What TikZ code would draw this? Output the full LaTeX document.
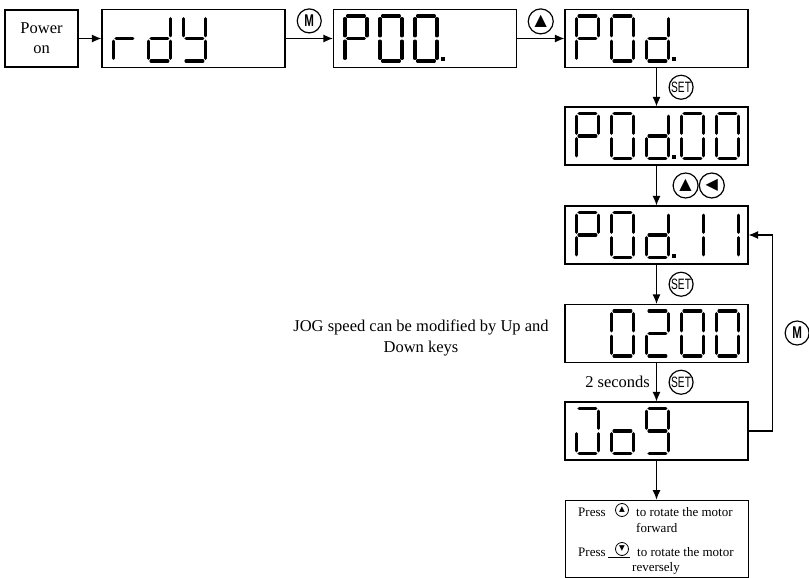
\documentclass[tikz,border=0pt]{standalone}
\usepackage{fontspec}
\setmainfont{Liberation Serif}
\newfontfamily\keyfont{Liberation Sans}
\newfontfamily\symfont{DejaVu Sans}
\usetikzlibrary{positioning,arrows.meta}

\newcommand{\segs}[3]{\foreach \s in {#3} {\pic at ([xshift={12pt+35pt*#2},yshift=22.5pt]#1.west) {seg\s};}}
\newcommand{\keylbl}[1]{\scalebox{0.68}[1]{#1}}

\begin{document}
\begin{tikzpicture}[
    x=1pt,y=-1pt,
    box/.style={draw,rectangle,line width=1.1pt,minimum width=73pt,minimum height=57pt,align=center,font=\fontsize{16.5}{20}\selectfont},
    disp/.style={draw,rectangle,line width=1.1pt,minimum width=183pt,minimum height=58pt},
    arr/.style={-{Latex[length=9.5pt,width=8pt]},line width=1.2pt},
    key/.style={circle,draw,line width=1.2pt,minimum size=24pt,inner sep=0pt,font=\keyfont\bfseries\fontsize{17}{17}\selectfont},
    setkey/.style={key,font=\keyfont\fontsize{15}{15}\selectfont},
    symkey/.style={key,minimum size=25pt,font=\symfont\fontsize{16}{16}\selectfont},
    smallkey/.style={circle,draw,line width=0.8pt,minimum size=13pt,inner sep=0pt,font=\symfont\fontsize{7.5}{7.5}\selectfont},
    txt/.style={font=\fontsize{16.5}{21}\selectfont,align=center,inner sep=0pt},
    ptxt/.style={font=\fontsize{13}{15}\selectfont,anchor=base west,inner sep=0pt},
    segline/.style={line width=3.2pt,line cap=round,shorten <=2.6pt,shorten >=2.6pt},
    pics/sega/.style={code={\draw[segline] (0,0) -- (22,0);}},
    pics/segb/.style={code={\draw[segline] (22,0) -- (22,22.5);}},
    pics/segc/.style={code={\draw[segline] (22,22.5) -- (22,45);}},
    pics/segd/.style={code={\draw[segline] (0,45) -- (22,45);}},
    pics/sege/.style={code={\draw[segline] (0,22.5) -- (0,45);}},
    pics/segf/.style={code={\draw[segline] (0,0) -- (0,22.5);}},
    pics/segg/.style={code={\draw[segline] (0,22.5) -- (22,22.5);}},
    pics/segp/.style={code={\fill (26,41.5) rectangle (30,45.5);}},
  ]
    \useasboundingbox (0,0) rectangle (809,578);

    \node[box]  (pwr)   at (41.5,38.5) {Power\\on};
    \node[disp] (rdy)   at (193.5,38.5) {};
    \node[disp] (p00)   at (425,38.5) {};
    \node[disp] (p0d)   at (656.5,38.5) {};
    \node[disp] (p0d00) at (656.5,136) {};
    \node[disp] (p0d11) at (656.5,235) {};
    \node[disp] (v0200) at (656.5,333.5) {};
    \node[disp] (jog)   at (656.5,431) {};
    \node[draw,rectangle,line width=0.8pt,minimum width=183pt,minimum height=77pt] (press) at (656.5,538.5) {};

    \segs{rdy}{0}{e,g} \segs{rdy}{1}{b,c,d,e,g} \segs{rdy}{2}{b,c,d,f,g}
    \segs{p00}{0}{a,b,e,f,g} \segs{p00}{1}{a,b,c,d,e,f} \segs{p00}{2}{a,b,c,d,e,f,p}
    \segs{p0d}{0}{a,b,e,f,g} \segs{p0d}{1}{a,b,c,d,e,f} \segs{p0d}{2}{b,c,d,e,g,p}
    \segs{p0d00}{0}{a,b,e,f,g} \segs{p0d00}{1}{a,b,c,d,e,f} \segs{p0d00}{2}{b,c,d,e,g,p}
    \segs{p0d00}{3}{a,b,c,d,e,f} \segs{p0d00}{4}{a,b,c,d,e,f}
    \segs{p0d11}{0}{a,b,e,f,g} \segs{p0d11}{1}{a,b,c,d,e,f} \segs{p0d11}{2}{b,c,d,e,g,p}
    \segs{p0d11}{3}{b,c} \segs{p0d11}{4}{b,c}
    \segs{v0200}{1}{a,b,c,d,e,f} \segs{v0200}{2}{a,b,g,e,d}
    \segs{v0200}{3}{a,b,c,d,e,f} \segs{v0200}{4}{a,b,c,d,e,f}
    \segs{jog}{0}{a,b,c,d,e} \segs{jog}{1}{c,d,e,g} \segs{jog}{2}{a,b,c,d,f,g}

    \draw[arr] (pwr) -- (rdy);
    \draw[arr] (rdy) -- node[key,above=5pt] (km1) {\keylbl{M}} (p00);
    \draw[arr] (p00) -- node[symkey,above=4pt] (kup1) {▲} (p0d);
    \draw[arr] (p0d) -- node[setkey,right=12pt] (kset1) {\keylbl{SET}} (p0d00);
    \draw[arr] (p0d00) -- node[symkey,right=16pt] (kup2) {▲} (p0d11);
    \node[symkey,right=0pt of kup2] (kleft) {◀};
    \draw[arr] (p0d11) -- node[setkey,right=12pt] (kset2) {\keylbl{SET}} (v0200);
    \draw[arr] (v0200) -- node[setkey,right=12pt] (kset3) {\keylbl{SET}}
      node[txt,left=6pt] (tsec) {2 seconds} (jog);
    \draw[arr] (jog.east) -- ++(24,0) |- node[key,pos=0.25,right=12pt] (km2) {\keylbl{M}} (p0d11.east);
    \draw[arr] (jog) -- (press);

    \node[txt] (tjog) at (421,338) {JOG speed can be modified by Up and\\Down keys};

    \node[ptxt] (pr1) at (578,516) {Press};
    \node[smallkey] (pk1) at (622,510) {▲};
    \node[ptxt] (pt1) at (636,516) {to rotate the motor};
    \node[ptxt] (pf1) at (636,532) {forward};
    \node[ptxt] (pr2) at (578,556) {Press};
    \node[smallkey] (pk2) at (622,549) {▼};
    \draw[line width=0.7pt] ([xshift=-14pt,yshift=-1.5pt]pk2.south) -- ([xshift=8pt,yshift=-1.5pt]pk2.south);
    \node[ptxt] (pt2) at (637,556) {to rotate the motor};
    \node[ptxt] (prv) at (632,571) {reversely};
  \end{tikzpicture}
\end{document}
